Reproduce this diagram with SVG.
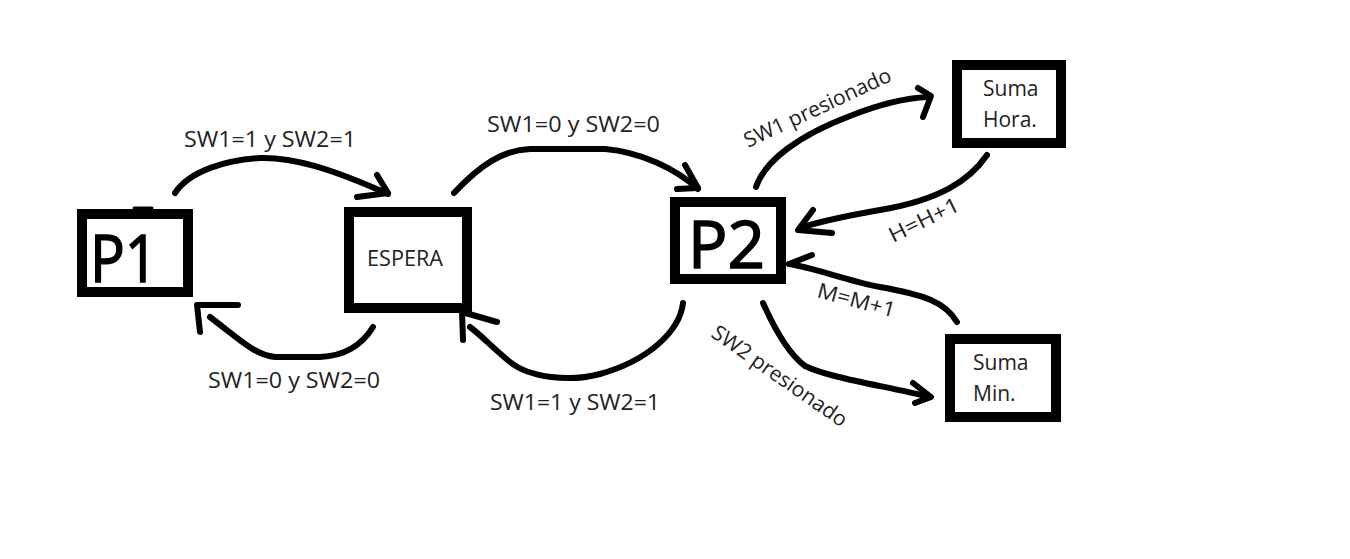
<svg xmlns="http://www.w3.org/2000/svg" width="1350" height="559" viewBox="0 0 1350 559">
<style>
.box{fill:#fff;stroke:#000;stroke-width:10}
.lbl{font-family:"Open Sans","Noto Sans",sans-serif;font-size:21px;fill:#222}
.big{font-family:"Open Sans","Noto Sans",sans-serif;font-size:66px;fill:#000;stroke:#000;stroke-width:1.5}
.ln{fill:none;stroke:#000;stroke-width:6;stroke-linecap:round;stroke-linejoin:round}
</style>
<rect width="1350" height="559" fill="#fff"/>
<g id="connectors">
  <path class="ln" d="M175,193 C190,170 228,160 260,158 C292,157 330,168 388,194"/>
  <path class="ln" d="M377,175 L388,193 L357,197"/>
  <path class="ln" d="M373,327 C362,345 345,356 320,357 L275,357 C255,355 240,340 210,317"/>
  <path class="ln" d="M200,332 L197,305 L238,305"/>
  <path class="ln" d="M454,193 C480,165 503,150 530,149 L605,149 C640,152 675,168 698,189"/>
  <path class="ln" d="M685,165 L698,188 L677,189"/>
  <path class="ln" d="M683,303 C680,330 650,360 600,374 C570,382 530,378 510,362 C495,350 482,336 470,327"/>
  <path class="ln" d="M463,340 L462,312 L497,322"/>
  <path class="ln" d="M756,187 C765,160 800,135 850,116 C880,104 905,98 928,97"/>
  <path class="ln" d="M918,88 L931,96 L923,117"/>
  <path class="ln" d="M987,155 C970,180 940,200 880,210 C840,217 815,223 800,228"/>
  <path class="ln" d="M813,210 L798,230 L832,233"/>
  <path class="ln" d="M957,322 C945,302 925,295 880,287 C845,280 815,268 789,264"/>
  <path class="ln" d="M789,264 L812,255"/>
  <path class="ln" d="M763,303 C775,330 790,355 805,366 C830,378 880,385 930,397"/>
  <path class="ln" d="M913,383 L931,397 L915,403"/>
  <text class="lbl" x="184" y="147" textLength="172" lengthAdjust="spacingAndGlyphs">SW1=1 y SW2=1</text>
  <text class="lbl" x="208" y="388" textLength="172" lengthAdjust="spacingAndGlyphs">SW1=0 y SW2=0</text>
  <text class="lbl" x="487" y="132" textLength="173" lengthAdjust="spacingAndGlyphs">SW1=0 y SW2=0</text>
  <text class="lbl" x="490" y="410" textLength="170" lengthAdjust="spacingAndGlyphs">SW1=1 y SW2=1</text>
  <text class="lbl" transform="translate(748,148) rotate(-25)" textLength="160" lengthAdjust="spacingAndGlyphs">SW1 presionado</text>
  <text class="lbl" transform="translate(710,336) rotate(35)" textLength="160" lengthAdjust="spacingAndGlyphs">SW2 presionado</text>
  <text class="lbl" transform="translate(893,243) rotate(-26)" textLength="76" lengthAdjust="spacingAndGlyphs">H=H+1</text>
  <text class="lbl" transform="translate(816,297) rotate(15)" textLength="80" lengthAdjust="spacingAndGlyphs">M=M+1</text>
</g>
<g id="P1">
  <rect class="box" x="82" y="214" width="106" height="78"/>
  <path d="M134,208 L152,208" fill="none" stroke="#000" stroke-width="3" stroke-linecap="round"/>
  <text class="big" x="90" y="282" textLength="68" lengthAdjust="spacingAndGlyphs">P1</text>
</g>
<g id="ESPERA">
  <rect class="box" x="349" y="212" width="118" height="96"/>
  <text class="lbl" x="367" y="266" textLength="76" lengthAdjust="spacingAndGlyphs">ESPERA</text>
</g>
<g id="P2">
  <rect class="box" x="675" y="202" width="106" height="77"/>
  <text class="big" x="688" y="268" textLength="77" lengthAdjust="spacingAndGlyphs">P2</text>
</g>
<g id="SumaHora">
  <rect class="box" x="957" y="65" width="104" height="78"/>
  <text class="lbl" x="983" y="96">Suma</text>
  <text class="lbl" x="983" y="127">Hora.</text>
</g>
<g id="SumaMin">
  <rect class="box" x="950" y="339" width="106" height="78"/>
  <text class="lbl" x="973" y="370">Suma</text>
  <text class="lbl" x="973" y="401">Min.</text>
</g>
</svg>
